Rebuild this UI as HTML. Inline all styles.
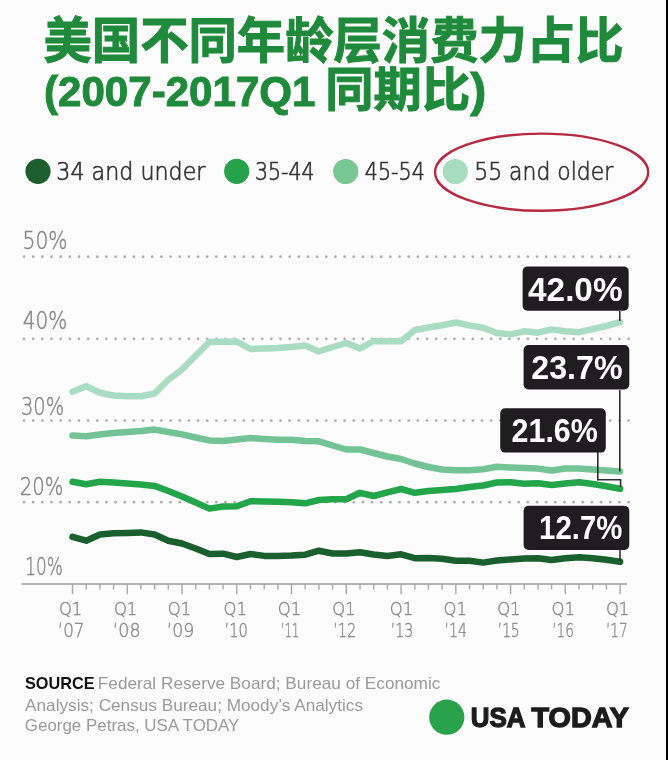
<!DOCTYPE html>
<html><head><meta charset="utf-8"><style>
html,body{margin:0;padding:0;}
body{width:668px;height:760px;overflow:hidden;background:#fdfcfd;position:relative;}
svg{position:absolute;left:0;top:0;}
.t{font-family:"Liberation Sans","Noto Sans CJK SC",sans-serif;font-weight:700;fill:#1f8a3b;stroke:#1f8a3b;stroke-width:1.0px;}
.lg{font-family:"DejaVu Sans",sans-serif;font-weight:200;fill:#333;stroke:#333;stroke-width:0.7px;font-size:25.3px;}
.ya{font-family:"DejaVu Sans",sans-serif;font-weight:200;fill:#858585;stroke:#858585;stroke-width:0.45px;font-size:24.3px;}
.xa{font-family:"DejaVu Sans",sans-serif;font-weight:200;fill:#888;stroke:#888;stroke-width:0.4px;font-size:18.5px;}
.bx{font-family:"Liberation Sans",sans-serif;font-weight:bold;fill:#fff;font-size:34px;}
.src{font-family:"Liberation Sans",sans-serif;fill:#9a9a9a;font-size:17px;}
.usa{font-family:"Liberation Sans",sans-serif;font-weight:bold;fill:#1c1c1c;stroke:#1c1c1c;stroke-width:1.3px;font-size:27px;}
</style></head><body>
<svg width="668" height="760" viewBox="0 0 668 760">
<rect x="666" y="0" width="2" height="760" fill="#000"/>
<text class="t" x="43.5" y="58" font-size="49" textLength="580" lengthAdjust="spacingAndGlyphs">美国不同年龄层消费力占比</text>
<text class="t" x="44" y="106" font-size="43" textLength="271.5" lengthAdjust="spacingAndGlyphs">(2007-2017Q1</text><text class="t" x="325.3" y="106" font-size="47" textLength="161" lengthAdjust="spacingAndGlyphs">同期比)</text>
<circle cx="38" cy="171.3" r="12.6" fill="#1d5e2f"/>
<text class="lg" x="56.3" y="179.8" textLength="149.2" lengthAdjust="spacingAndGlyphs">34 and under</text>
<circle cx="236.7" cy="171.3" r="12.6" fill="#27a24a"/>
<text class="lg" x="254.9" y="179.8" textLength="59.6" lengthAdjust="spacingAndGlyphs">35-44</text>
<circle cx="345.7" cy="171.5" r="12.6" fill="#79c793"/>
<text class="lg" x="364.8" y="179.8" textLength="60" lengthAdjust="spacingAndGlyphs">45-54</text>
<circle cx="455.3" cy="171.5" r="12.6" fill="#a8dcc0"/>
<text class="lg" x="474.2" y="179.8" textLength="139" lengthAdjust="spacingAndGlyphs">55 and older</text>
<ellipse cx="541.6" cy="172.2" rx="106.6" ry="38.6" fill="none" stroke="#b62a42" stroke-width="2.4"/>
<g class="ya">
<text x="22.6" y="249.3" textLength="45" lengthAdjust="spacingAndGlyphs">50%</text>
<text x="22.8" y="329" textLength="44.5" lengthAdjust="spacingAndGlyphs">40%</text>
<text x="21" y="414.8" textLength="43.2" lengthAdjust="spacingAndGlyphs">30%</text>
<text x="19.8" y="494.8" textLength="43.6" lengthAdjust="spacingAndGlyphs">20%</text>
<text x="25.3" y="574.8" textLength="37.6" lengthAdjust="spacingAndGlyphs">10%</text>
</g>
<g fill="#adadad">
<circle cx="24.00" cy="256.7" r="1.35"/>
<circle cx="33.16" cy="256.7" r="1.35"/>
<circle cx="42.32" cy="256.7" r="1.35"/>
<circle cx="51.48" cy="256.7" r="1.35"/>
<circle cx="60.64" cy="256.7" r="1.35"/>
<circle cx="69.80" cy="256.7" r="1.35"/>
<circle cx="78.96" cy="256.7" r="1.35"/>
<circle cx="88.12" cy="256.7" r="1.35"/>
<circle cx="97.28" cy="256.7" r="1.35"/>
<circle cx="106.44" cy="256.7" r="1.35"/>
<circle cx="115.60" cy="256.7" r="1.35"/>
<circle cx="124.76" cy="256.7" r="1.35"/>
<circle cx="133.92" cy="256.7" r="1.35"/>
<circle cx="143.08" cy="256.7" r="1.35"/>
<circle cx="152.24" cy="256.7" r="1.35"/>
<circle cx="161.40" cy="256.7" r="1.35"/>
<circle cx="170.56" cy="256.7" r="1.35"/>
<circle cx="179.72" cy="256.7" r="1.35"/>
<circle cx="188.88" cy="256.7" r="1.35"/>
<circle cx="198.04" cy="256.7" r="1.35"/>
<circle cx="207.20" cy="256.7" r="1.35"/>
<circle cx="216.36" cy="256.7" r="1.35"/>
<circle cx="225.52" cy="256.7" r="1.35"/>
<circle cx="234.68" cy="256.7" r="1.35"/>
<circle cx="243.84" cy="256.7" r="1.35"/>
<circle cx="253.00" cy="256.7" r="1.35"/>
<circle cx="262.16" cy="256.7" r="1.35"/>
<circle cx="271.32" cy="256.7" r="1.35"/>
<circle cx="280.48" cy="256.7" r="1.35"/>
<circle cx="289.64" cy="256.7" r="1.35"/>
<circle cx="298.80" cy="256.7" r="1.35"/>
<circle cx="307.96" cy="256.7" r="1.35"/>
<circle cx="317.12" cy="256.7" r="1.35"/>
<circle cx="326.28" cy="256.7" r="1.35"/>
<circle cx="335.44" cy="256.7" r="1.35"/>
<circle cx="344.60" cy="256.7" r="1.35"/>
<circle cx="353.76" cy="256.7" r="1.35"/>
<circle cx="362.92" cy="256.7" r="1.35"/>
<circle cx="372.08" cy="256.7" r="1.35"/>
<circle cx="381.24" cy="256.7" r="1.35"/>
<circle cx="390.40" cy="256.7" r="1.35"/>
<circle cx="399.56" cy="256.7" r="1.35"/>
<circle cx="408.72" cy="256.7" r="1.35"/>
<circle cx="417.88" cy="256.7" r="1.35"/>
<circle cx="427.04" cy="256.7" r="1.35"/>
<circle cx="436.20" cy="256.7" r="1.35"/>
<circle cx="445.36" cy="256.7" r="1.35"/>
<circle cx="454.52" cy="256.7" r="1.35"/>
<circle cx="463.68" cy="256.7" r="1.35"/>
<circle cx="472.84" cy="256.7" r="1.35"/>
<circle cx="482.00" cy="256.7" r="1.35"/>
<circle cx="491.16" cy="256.7" r="1.35"/>
<circle cx="500.32" cy="256.7" r="1.35"/>
<circle cx="509.48" cy="256.7" r="1.35"/>
<circle cx="518.64" cy="256.7" r="1.35"/>
<circle cx="527.80" cy="256.7" r="1.35"/>
<circle cx="536.96" cy="256.7" r="1.35"/>
<circle cx="546.12" cy="256.7" r="1.35"/>
<circle cx="555.28" cy="256.7" r="1.35"/>
<circle cx="564.44" cy="256.7" r="1.35"/>
<circle cx="573.60" cy="256.7" r="1.35"/>
<circle cx="582.76" cy="256.7" r="1.35"/>
<circle cx="591.92" cy="256.7" r="1.35"/>
<circle cx="601.08" cy="256.7" r="1.35"/>
<circle cx="610.24" cy="256.7" r="1.35"/>
<circle cx="619.40" cy="256.7" r="1.35"/>
<circle cx="628.56" cy="256.7" r="1.35"/>
<circle cx="24.00" cy="338.8" r="1.35"/>
<circle cx="33.16" cy="338.8" r="1.35"/>
<circle cx="42.32" cy="338.8" r="1.35"/>
<circle cx="51.48" cy="338.8" r="1.35"/>
<circle cx="60.64" cy="338.8" r="1.35"/>
<circle cx="69.80" cy="338.8" r="1.35"/>
<circle cx="78.96" cy="338.8" r="1.35"/>
<circle cx="88.12" cy="338.8" r="1.35"/>
<circle cx="97.28" cy="338.8" r="1.35"/>
<circle cx="106.44" cy="338.8" r="1.35"/>
<circle cx="115.60" cy="338.8" r="1.35"/>
<circle cx="124.76" cy="338.8" r="1.35"/>
<circle cx="133.92" cy="338.8" r="1.35"/>
<circle cx="143.08" cy="338.8" r="1.35"/>
<circle cx="152.24" cy="338.8" r="1.35"/>
<circle cx="161.40" cy="338.8" r="1.35"/>
<circle cx="170.56" cy="338.8" r="1.35"/>
<circle cx="179.72" cy="338.8" r="1.35"/>
<circle cx="188.88" cy="338.8" r="1.35"/>
<circle cx="198.04" cy="338.8" r="1.35"/>
<circle cx="207.20" cy="338.8" r="1.35"/>
<circle cx="216.36" cy="338.8" r="1.35"/>
<circle cx="225.52" cy="338.8" r="1.35"/>
<circle cx="234.68" cy="338.8" r="1.35"/>
<circle cx="243.84" cy="338.8" r="1.35"/>
<circle cx="253.00" cy="338.8" r="1.35"/>
<circle cx="262.16" cy="338.8" r="1.35"/>
<circle cx="271.32" cy="338.8" r="1.35"/>
<circle cx="280.48" cy="338.8" r="1.35"/>
<circle cx="289.64" cy="338.8" r="1.35"/>
<circle cx="298.80" cy="338.8" r="1.35"/>
<circle cx="307.96" cy="338.8" r="1.35"/>
<circle cx="317.12" cy="338.8" r="1.35"/>
<circle cx="326.28" cy="338.8" r="1.35"/>
<circle cx="335.44" cy="338.8" r="1.35"/>
<circle cx="344.60" cy="338.8" r="1.35"/>
<circle cx="353.76" cy="338.8" r="1.35"/>
<circle cx="362.92" cy="338.8" r="1.35"/>
<circle cx="372.08" cy="338.8" r="1.35"/>
<circle cx="381.24" cy="338.8" r="1.35"/>
<circle cx="390.40" cy="338.8" r="1.35"/>
<circle cx="399.56" cy="338.8" r="1.35"/>
<circle cx="408.72" cy="338.8" r="1.35"/>
<circle cx="417.88" cy="338.8" r="1.35"/>
<circle cx="427.04" cy="338.8" r="1.35"/>
<circle cx="436.20" cy="338.8" r="1.35"/>
<circle cx="445.36" cy="338.8" r="1.35"/>
<circle cx="454.52" cy="338.8" r="1.35"/>
<circle cx="463.68" cy="338.8" r="1.35"/>
<circle cx="472.84" cy="338.8" r="1.35"/>
<circle cx="482.00" cy="338.8" r="1.35"/>
<circle cx="491.16" cy="338.8" r="1.35"/>
<circle cx="500.32" cy="338.8" r="1.35"/>
<circle cx="509.48" cy="338.8" r="1.35"/>
<circle cx="518.64" cy="338.8" r="1.35"/>
<circle cx="527.80" cy="338.8" r="1.35"/>
<circle cx="536.96" cy="338.8" r="1.35"/>
<circle cx="546.12" cy="338.8" r="1.35"/>
<circle cx="555.28" cy="338.8" r="1.35"/>
<circle cx="564.44" cy="338.8" r="1.35"/>
<circle cx="573.60" cy="338.8" r="1.35"/>
<circle cx="582.76" cy="338.8" r="1.35"/>
<circle cx="591.92" cy="338.8" r="1.35"/>
<circle cx="601.08" cy="338.8" r="1.35"/>
<circle cx="610.24" cy="338.8" r="1.35"/>
<circle cx="619.40" cy="338.8" r="1.35"/>
<circle cx="628.56" cy="338.8" r="1.35"/>
<circle cx="24.00" cy="420.6" r="1.35"/>
<circle cx="33.16" cy="420.6" r="1.35"/>
<circle cx="42.32" cy="420.6" r="1.35"/>
<circle cx="51.48" cy="420.6" r="1.35"/>
<circle cx="60.64" cy="420.6" r="1.35"/>
<circle cx="69.80" cy="420.6" r="1.35"/>
<circle cx="78.96" cy="420.6" r="1.35"/>
<circle cx="88.12" cy="420.6" r="1.35"/>
<circle cx="97.28" cy="420.6" r="1.35"/>
<circle cx="106.44" cy="420.6" r="1.35"/>
<circle cx="115.60" cy="420.6" r="1.35"/>
<circle cx="124.76" cy="420.6" r="1.35"/>
<circle cx="133.92" cy="420.6" r="1.35"/>
<circle cx="143.08" cy="420.6" r="1.35"/>
<circle cx="152.24" cy="420.6" r="1.35"/>
<circle cx="161.40" cy="420.6" r="1.35"/>
<circle cx="170.56" cy="420.6" r="1.35"/>
<circle cx="179.72" cy="420.6" r="1.35"/>
<circle cx="188.88" cy="420.6" r="1.35"/>
<circle cx="198.04" cy="420.6" r="1.35"/>
<circle cx="207.20" cy="420.6" r="1.35"/>
<circle cx="216.36" cy="420.6" r="1.35"/>
<circle cx="225.52" cy="420.6" r="1.35"/>
<circle cx="234.68" cy="420.6" r="1.35"/>
<circle cx="243.84" cy="420.6" r="1.35"/>
<circle cx="253.00" cy="420.6" r="1.35"/>
<circle cx="262.16" cy="420.6" r="1.35"/>
<circle cx="271.32" cy="420.6" r="1.35"/>
<circle cx="280.48" cy="420.6" r="1.35"/>
<circle cx="289.64" cy="420.6" r="1.35"/>
<circle cx="298.80" cy="420.6" r="1.35"/>
<circle cx="307.96" cy="420.6" r="1.35"/>
<circle cx="317.12" cy="420.6" r="1.35"/>
<circle cx="326.28" cy="420.6" r="1.35"/>
<circle cx="335.44" cy="420.6" r="1.35"/>
<circle cx="344.60" cy="420.6" r="1.35"/>
<circle cx="353.76" cy="420.6" r="1.35"/>
<circle cx="362.92" cy="420.6" r="1.35"/>
<circle cx="372.08" cy="420.6" r="1.35"/>
<circle cx="381.24" cy="420.6" r="1.35"/>
<circle cx="390.40" cy="420.6" r="1.35"/>
<circle cx="399.56" cy="420.6" r="1.35"/>
<circle cx="408.72" cy="420.6" r="1.35"/>
<circle cx="417.88" cy="420.6" r="1.35"/>
<circle cx="427.04" cy="420.6" r="1.35"/>
<circle cx="436.20" cy="420.6" r="1.35"/>
<circle cx="445.36" cy="420.6" r="1.35"/>
<circle cx="454.52" cy="420.6" r="1.35"/>
<circle cx="463.68" cy="420.6" r="1.35"/>
<circle cx="472.84" cy="420.6" r="1.35"/>
<circle cx="482.00" cy="420.6" r="1.35"/>
<circle cx="491.16" cy="420.6" r="1.35"/>
<circle cx="500.32" cy="420.6" r="1.35"/>
<circle cx="509.48" cy="420.6" r="1.35"/>
<circle cx="518.64" cy="420.6" r="1.35"/>
<circle cx="527.80" cy="420.6" r="1.35"/>
<circle cx="536.96" cy="420.6" r="1.35"/>
<circle cx="546.12" cy="420.6" r="1.35"/>
<circle cx="555.28" cy="420.6" r="1.35"/>
<circle cx="564.44" cy="420.6" r="1.35"/>
<circle cx="573.60" cy="420.6" r="1.35"/>
<circle cx="582.76" cy="420.6" r="1.35"/>
<circle cx="591.92" cy="420.6" r="1.35"/>
<circle cx="601.08" cy="420.6" r="1.35"/>
<circle cx="610.24" cy="420.6" r="1.35"/>
<circle cx="619.40" cy="420.6" r="1.35"/>
<circle cx="628.56" cy="420.6" r="1.35"/>
<circle cx="24.00" cy="502.2" r="1.35"/>
<circle cx="33.16" cy="502.2" r="1.35"/>
<circle cx="42.32" cy="502.2" r="1.35"/>
<circle cx="51.48" cy="502.2" r="1.35"/>
<circle cx="60.64" cy="502.2" r="1.35"/>
<circle cx="69.80" cy="502.2" r="1.35"/>
<circle cx="78.96" cy="502.2" r="1.35"/>
<circle cx="88.12" cy="502.2" r="1.35"/>
<circle cx="97.28" cy="502.2" r="1.35"/>
<circle cx="106.44" cy="502.2" r="1.35"/>
<circle cx="115.60" cy="502.2" r="1.35"/>
<circle cx="124.76" cy="502.2" r="1.35"/>
<circle cx="133.92" cy="502.2" r="1.35"/>
<circle cx="143.08" cy="502.2" r="1.35"/>
<circle cx="152.24" cy="502.2" r="1.35"/>
<circle cx="161.40" cy="502.2" r="1.35"/>
<circle cx="170.56" cy="502.2" r="1.35"/>
<circle cx="179.72" cy="502.2" r="1.35"/>
<circle cx="188.88" cy="502.2" r="1.35"/>
<circle cx="198.04" cy="502.2" r="1.35"/>
<circle cx="207.20" cy="502.2" r="1.35"/>
<circle cx="216.36" cy="502.2" r="1.35"/>
<circle cx="225.52" cy="502.2" r="1.35"/>
<circle cx="234.68" cy="502.2" r="1.35"/>
<circle cx="243.84" cy="502.2" r="1.35"/>
<circle cx="253.00" cy="502.2" r="1.35"/>
<circle cx="262.16" cy="502.2" r="1.35"/>
<circle cx="271.32" cy="502.2" r="1.35"/>
<circle cx="280.48" cy="502.2" r="1.35"/>
<circle cx="289.64" cy="502.2" r="1.35"/>
<circle cx="298.80" cy="502.2" r="1.35"/>
<circle cx="307.96" cy="502.2" r="1.35"/>
<circle cx="317.12" cy="502.2" r="1.35"/>
<circle cx="326.28" cy="502.2" r="1.35"/>
<circle cx="335.44" cy="502.2" r="1.35"/>
<circle cx="344.60" cy="502.2" r="1.35"/>
<circle cx="353.76" cy="502.2" r="1.35"/>
<circle cx="362.92" cy="502.2" r="1.35"/>
<circle cx="372.08" cy="502.2" r="1.35"/>
<circle cx="381.24" cy="502.2" r="1.35"/>
<circle cx="390.40" cy="502.2" r="1.35"/>
<circle cx="399.56" cy="502.2" r="1.35"/>
<circle cx="408.72" cy="502.2" r="1.35"/>
<circle cx="417.88" cy="502.2" r="1.35"/>
<circle cx="427.04" cy="502.2" r="1.35"/>
<circle cx="436.20" cy="502.2" r="1.35"/>
<circle cx="445.36" cy="502.2" r="1.35"/>
<circle cx="454.52" cy="502.2" r="1.35"/>
<circle cx="463.68" cy="502.2" r="1.35"/>
<circle cx="472.84" cy="502.2" r="1.35"/>
<circle cx="482.00" cy="502.2" r="1.35"/>
<circle cx="491.16" cy="502.2" r="1.35"/>
<circle cx="500.32" cy="502.2" r="1.35"/>
<circle cx="509.48" cy="502.2" r="1.35"/>
<circle cx="518.64" cy="502.2" r="1.35"/>
<circle cx="527.80" cy="502.2" r="1.35"/>
<circle cx="536.96" cy="502.2" r="1.35"/>
<circle cx="546.12" cy="502.2" r="1.35"/>
<circle cx="555.28" cy="502.2" r="1.35"/>
<circle cx="564.44" cy="502.2" r="1.35"/>
<circle cx="573.60" cy="502.2" r="1.35"/>
<circle cx="582.76" cy="502.2" r="1.35"/>
<circle cx="591.92" cy="502.2" r="1.35"/>
<circle cx="601.08" cy="502.2" r="1.35"/>
<circle cx="610.24" cy="502.2" r="1.35"/>
<circle cx="619.40" cy="502.2" r="1.35"/>
<circle cx="628.56" cy="502.2" r="1.35"/>
</g>
<line x1="21.5" y1="584" x2="627" y2="584" stroke="#b3b3b3" stroke-width="1.8"/>
<g stroke="#a8a8a8" stroke-width="1.4">
<line x1="72.5" y1="584" x2="72.5" y2="594.2"/>
<line x1="86.2" y1="584" x2="86.2" y2="589.5"/>
<line x1="99.9" y1="584" x2="99.9" y2="589.5"/>
<line x1="113.6" y1="584" x2="113.6" y2="589.5"/>
<line x1="127.3" y1="584" x2="127.3" y2="594.2"/>
<line x1="140.9" y1="584" x2="140.9" y2="589.5"/>
<line x1="154.6" y1="584" x2="154.6" y2="589.5"/>
<line x1="168.3" y1="584" x2="168.3" y2="589.5"/>
<line x1="182.0" y1="584" x2="182.0" y2="594.2"/>
<line x1="195.7" y1="584" x2="195.7" y2="589.5"/>
<line x1="209.4" y1="584" x2="209.4" y2="589.5"/>
<line x1="223.1" y1="584" x2="223.1" y2="589.5"/>
<line x1="236.8" y1="584" x2="236.8" y2="594.2"/>
<line x1="250.5" y1="584" x2="250.5" y2="589.5"/>
<line x1="264.2" y1="584" x2="264.2" y2="589.5"/>
<line x1="277.9" y1="584" x2="277.9" y2="589.5"/>
<line x1="291.5" y1="584" x2="291.5" y2="594.2"/>
<line x1="305.2" y1="584" x2="305.2" y2="589.5"/>
<line x1="318.9" y1="584" x2="318.9" y2="589.5"/>
<line x1="332.6" y1="584" x2="332.6" y2="589.5"/>
<line x1="346.3" y1="584" x2="346.3" y2="594.2"/>
<line x1="360.0" y1="584" x2="360.0" y2="589.5"/>
<line x1="373.7" y1="584" x2="373.7" y2="589.5"/>
<line x1="387.4" y1="584" x2="387.4" y2="589.5"/>
<line x1="401.1" y1="584" x2="401.1" y2="594.2"/>
<line x1="414.8" y1="584" x2="414.8" y2="589.5"/>
<line x1="428.4" y1="584" x2="428.4" y2="589.5"/>
<line x1="442.1" y1="584" x2="442.1" y2="589.5"/>
<line x1="455.8" y1="584" x2="455.8" y2="594.2"/>
<line x1="469.5" y1="584" x2="469.5" y2="589.5"/>
<line x1="483.2" y1="584" x2="483.2" y2="589.5"/>
<line x1="496.9" y1="584" x2="496.9" y2="589.5"/>
<line x1="510.6" y1="584" x2="510.6" y2="594.2"/>
<line x1="524.3" y1="584" x2="524.3" y2="589.5"/>
<line x1="538.0" y1="584" x2="538.0" y2="589.5"/>
<line x1="551.6" y1="584" x2="551.6" y2="589.5"/>
<line x1="565.3" y1="584" x2="565.3" y2="594.2"/>
<line x1="579.0" y1="584" x2="579.0" y2="589.5"/>
<line x1="592.7" y1="584" x2="592.7" y2="589.5"/>
<line x1="606.4" y1="584" x2="606.4" y2="589.5"/>
<line x1="620.1" y1="584" x2="620.1" y2="594.2"/>
</g>
<g class="xa">
<text x="58.9" y="615.3" textLength="23.4" lengthAdjust="spacingAndGlyphs">Q1</text><text x="57.8" y="636.5" font-size="20" textLength="26.7" lengthAdjust="spacingAndGlyphs">’07</text>
<text x="113.9" y="615.3" textLength="23.4" lengthAdjust="spacingAndGlyphs">Q1</text><text x="112.8" y="636.5" font-size="20" textLength="27.8" lengthAdjust="spacingAndGlyphs">’08</text>
<text x="167.8" y="615.3" textLength="23.4" lengthAdjust="spacingAndGlyphs">Q1</text><text x="166.7" y="636.5" font-size="20" textLength="27.8" lengthAdjust="spacingAndGlyphs">’09</text>
<text x="223.5" y="615.3" textLength="23.4" lengthAdjust="spacingAndGlyphs">Q1</text><text x="224.5" y="636.5" font-size="20" textLength="23.4" lengthAdjust="spacingAndGlyphs">’10</text>
<text x="277.8" y="615.3" textLength="23.4" lengthAdjust="spacingAndGlyphs">Q1</text><text x="281.1" y="636.5" font-size="20" textLength="18.0" lengthAdjust="spacingAndGlyphs">’11</text>
<text x="332.2" y="615.3" textLength="23.4" lengthAdjust="spacingAndGlyphs">Q1</text><text x="333.2" y="636.5" font-size="20" textLength="23.1" lengthAdjust="spacingAndGlyphs">’12</text>
<text x="389.8" y="615.3" textLength="23.4" lengthAdjust="spacingAndGlyphs">Q1</text><text x="390.8" y="636.5" font-size="20" textLength="22.4" lengthAdjust="spacingAndGlyphs">’13</text>
<text x="443.5" y="615.3" textLength="23.4" lengthAdjust="spacingAndGlyphs">Q1</text><text x="444.5" y="636.5" font-size="20" textLength="22.4" lengthAdjust="spacingAndGlyphs">’14</text>
<text x="497.2" y="615.3" textLength="23.4" lengthAdjust="spacingAndGlyphs">Q1</text><text x="497.8" y="636.5" font-size="20" textLength="21.8" lengthAdjust="spacingAndGlyphs">’15</text>
<text x="551.5" y="615.3" textLength="23.4" lengthAdjust="spacingAndGlyphs">Q1</text><text x="552.2" y="636.5" font-size="20" textLength="21.8" lengthAdjust="spacingAndGlyphs">’16</text>
<text x="605.9" y="615.3" textLength="23.4" lengthAdjust="spacingAndGlyphs">Q1</text><text x="605.9" y="636.5" font-size="20" textLength="21.8" lengthAdjust="spacingAndGlyphs">’17</text>
</g>
<g fill="none" stroke-width="6.5" stroke-linejoin="round" stroke-linecap="round">
<polyline stroke="#aadcc3" points="72.5,391.8 86.2,386.3 99.9,392.8 113.6,395.5 127.3,396.3 140.9,396.3 154.6,393.5 168.3,379.8 182.0,369.5 195.7,355.5 209.4,342.0 223.1,341.8 236.8,341.6 250.5,349.0 264.2,348.5 277.9,348.0 291.5,347.0 305.2,345.5 318.9,351.5 332.6,347.0 346.3,343.0 360.0,348.5 373.7,341.0 387.4,341.2 401.1,341.3 414.8,330.0 428.4,327.5 442.1,325.2 455.8,322.5 469.5,325.4 483.2,327.8 496.9,333.0 510.6,334.3 524.3,331.3 538.0,332.7 551.6,329.4 565.3,331.2 579.0,332.2 592.7,329.0 606.4,326.0 620.1,322.2"/>
<polyline stroke="#73c396" points="72.5,435.6 86.2,436.3 99.9,434.5 113.6,433.0 127.3,432.0 140.9,431.0 154.6,429.6 168.3,432.0 182.0,434.4 195.7,437.5 209.4,440.4 223.1,441.0 236.8,439.5 250.5,438.0 264.2,439.0 277.9,439.7 291.5,439.8 305.2,441.0 318.9,441.3 332.6,445.5 346.3,449.5 360.0,449.5 373.7,453.0 387.4,456.5 401.1,459.0 414.8,463.5 428.4,467.0 442.1,469.5 455.8,470.3 469.5,470.3 483.2,469.3 496.9,466.8 510.6,467.5 524.3,467.9 538.0,468.6 551.6,470.5 565.3,468.5 579.0,468.5 592.7,469.5 606.4,470.5 620.1,471.5"/>
<polyline stroke="#23a54b" points="72.5,481.8 86.2,484.2 99.9,481.8 113.6,482.5 127.3,483.5 140.9,484.5 154.6,485.9 168.3,491.0 182.0,496.6 195.7,502.5 209.4,508.6 223.1,506.5 236.8,506.2 250.5,501.2 264.2,501.5 277.9,501.8 291.5,502.3 305.2,503.3 318.9,500.0 332.6,499.3 346.3,499.2 360.0,492.8 373.7,496.0 387.4,492.3 401.1,489.0 414.8,492.8 428.4,491.0 442.1,490.0 455.8,489.0 469.5,487.0 483.2,485.5 496.9,482.5 510.6,482.2 524.3,483.8 538.0,483.3 551.6,485.0 565.3,483.5 579.0,482.3 592.7,484.0 606.4,486.3 620.1,488.8"/>
<polyline stroke="#1a5f2e" points="72.5,536.8 86.2,540.7 99.9,534.5 113.6,533.3 127.3,532.9 140.9,532.4 154.6,534.5 168.3,540.7 182.0,543.5 195.7,548.5 209.4,554.0 223.1,553.7 236.8,557.0 250.5,554.0 264.2,555.9 277.9,555.9 291.5,555.5 305.2,554.7 318.9,550.7 332.6,553.5 346.3,553.5 360.0,552.2 373.7,554.5 387.4,556.0 401.1,554.3 414.8,558.2 428.4,558.0 442.1,558.7 455.8,560.7 469.5,560.7 483.2,562.6 496.9,560.5 510.6,559.4 524.3,558.5 538.0,558.2 551.6,560.0 565.3,558.3 579.0,557.2 592.7,558.3 606.4,559.8 620.1,561.8"/>
</g>
<g stroke="#2e2e2e" stroke-width="1.6" fill="none">
<polyline points="619.8,311 619.8,321"/>
<polyline points="619.8,390 619.8,471.5"/>
<polyline points="597.8,452 597.8,479.7 620.6,479.7 620.6,487"/>
<polyline points="620,550 620,561"/>
</g>
<g fill="#1f1d1f">
<rect x="522.6" y="266.4" width="106.1" height="44.3" rx="5"/>
<rect x="523.6" y="345" width="105.7" height="44.4" rx="5"/>
<rect x="500.2" y="408.2" width="105.6" height="44.4" rx="5"/>
<rect x="523.6" y="505.7" width="105.7" height="44.2" rx="5"/>
</g>
<g class="bx">
<text x="528.1" y="300.5" textLength="94.4" lengthAdjust="spacingAndGlyphs">42.0%</text>
<text x="531.3" y="378.6" textLength="91.2" lengthAdjust="spacingAndGlyphs">23.7%</text>
<text x="511.6" y="441.8" textLength="86.2" lengthAdjust="spacingAndGlyphs">21.6%</text>
<text x="539.1" y="539.2" textLength="83.2" lengthAdjust="spacingAndGlyphs">12.7%</text>
</g>
<g class="src">
<text x="24.9" y="689.1" font-weight="bold" fill="#111" textLength="69.6" lengthAdjust="spacingAndGlyphs">SOURCE</text>
<text x="97.8" y="689.1" textLength="342.6" lengthAdjust="spacingAndGlyphs">Federal Reserve Board; Bureau of Economic</text>
<text x="25.1" y="710.8" textLength="337.9" lengthAdjust="spacingAndGlyphs">Analysis; Census Bureau; Moody’s Analytics</text>
<text x="24.8" y="731.1" textLength="214.6" lengthAdjust="spacingAndGlyphs">George Petras, USA TODAY</text>
</g>
<circle cx="446.8" cy="717.2" r="17.6" fill="#2aa24b"/>
<text class="usa" x="470.8" y="726.8" textLength="54.6" lengthAdjust="spacingAndGlyphs">USA</text><text class="usa" x="531.6" y="726.8" textLength="97.4" lengthAdjust="spacingAndGlyphs">TODAY</text>
</svg>
</body></html>
